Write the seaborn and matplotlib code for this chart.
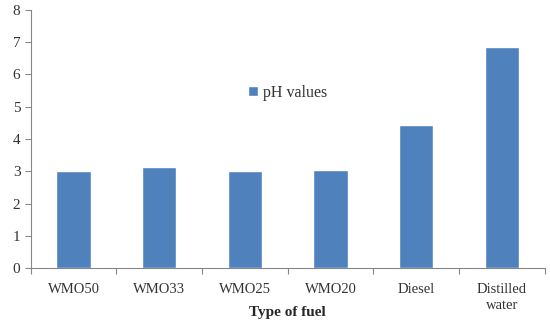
import numpy as np
import seaborn as sns
import matplotlib.pyplot as plt
from matplotlib.ticker import FixedLocator


# --- pH values of fuel samples ---

fuels = ['WMO50', 'WMO33', 'WMO25', 'WMO20', 'Diesel', 'Distilled\nwater']
ph_values = [3.02, 3.13, 3.0, 3.05, 4.43, 6.86]
y_ticks = [0, 1, 2, 3, 4, 5, 6, 7, 8]

sns.set_style('white')
plt.rcParams['font.family'] = ['Liberation Serif', 'DejaVu Serif']

fig, ax = plt.subplots(figsize=(5.5, 3.29), dpi=100)

sns.barplot(x=fuels, y=ph_values, color='#4F81BD', saturation=1,
            width=0.4, label='pH values', ax=ax)

ax.set_ylim(0, 8)
ax.set_xlim(-0.5, len(fuels) - 0.5)
ax.set_yticks(y_ticks)
ax.xaxis.set_minor_locator(FixedLocator(np.arange(-0.5, len(fuels), 1)))
ax.tick_params(axis='x', which='major', length=0, pad=11, labelsize=10.5,
               labelcolor='#333333')
ax.tick_params(axis='x', which='minor', bottom=True, length=4,
               color='#868686', width=0.8)
ax.tick_params(axis='y', left=True, length=4, color='#868686', width=0.8,
               labelsize=11, labelcolor='#333333')
for lab in ax.get_xticklabels():
    lab.set_linespacing(1.3)
ax.set_xlabel('Type of fuel', fontweight='bold', fontsize=11, va='center')
ax.xaxis.set_label_coords(0.5, -0.172)
ax.set_ylabel('')

sns.despine(ax=ax)
for side in ['left', 'bottom']:
    ax.spines[side].set_color('#868686')
    ax.spines[side].set_linewidth(0.8)

ax.legend(loc='center', bbox_to_anchor=(0.5, 0.68), frameon=False,
          fontsize=11.5, handlelength=0.6, handleheight=0.6, handletextpad=0.3,
          labelcolor='#333333')

fig.subplots_adjust(left=0.056, right=0.99, top=0.97, bottom=0.185)
fig.savefig('out.png')
